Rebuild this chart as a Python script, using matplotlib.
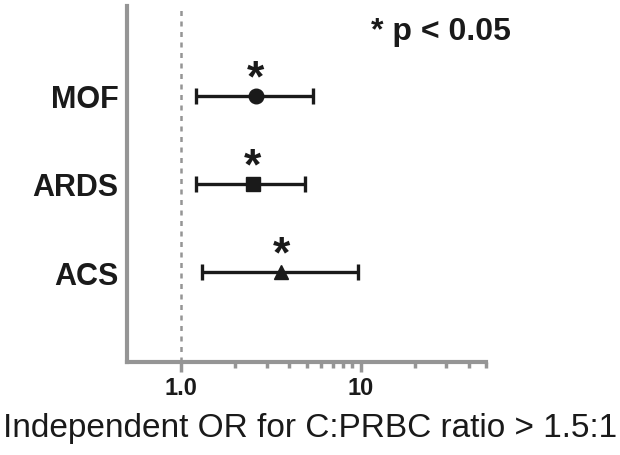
import matplotlib
matplotlib.use("Agg")
import matplotlib.pyplot as plt
from matplotlib.ticker import FixedLocator, NullFormatter

plt.rcParams["font.family"] = ["Liberation Sans", "DejaVu Sans"]

outcomes = ["MOF", "ARDS", "ACS"]
odds_ratio = [2.6, 2.5, 3.6]
ci_low = [1.21, 1.21, 1.3]
ci_high = [5.4, 4.9, 9.7]
markers = ["o", "s", "^"]
ypos = [3, 2, 1]
tick_vals = [1, 10]
tick_text = ["1.0", "10"]

GRAY = "#959595"
INK = "#1a1a1a"

fig = plt.figure(figsize=(6.2, 4.56), dpi=100)
ax = fig.add_axes([0.205, 0.204, 0.579, 0.781])

for y, orv, lo, hi, m in zip(ypos, odds_ratio, ci_low, ci_high, markers):
    ax.errorbar([orv], [y], xerr=[[orv - lo], [hi - orv]], fmt=m, color=INK,
                ms=10.5 if m != "s" else 9.5, elinewidth=2.4, capsize=6, capthick=2.4)
    ax.annotate("*", (orv, y), xytext=(0, 12), textcoords="offset points",
                ha="center", va="center", fontsize=32, fontweight="bold", color=INK)

ax.axvline(1.0, color=GRAY, ls=(0, (2, 2.2)), lw=1.8, zorder=0)

ax.set_xscale("log")
ax.set_xlim(0.5, 50)
ax.set_ylim(-0.02, 4.02)

ax.xaxis.set_major_locator(FixedLocator(tick_vals))
ax.xaxis.set_minor_locator(FixedLocator([2, 3, 4, 5, 6, 7, 8, 9, 20, 30, 40, 50]))
ax.xaxis.set_minor_formatter(NullFormatter())
ax.set_xticklabels(tick_text, fontsize=17, fontweight="bold", color=INK)
ax.tick_params(axis="x", which="major", length=7, width=2.5, color=GRAY, pad=3)
ax.tick_params(axis="x", which="minor", length=4, width=2.5, color=GRAY)

ax.set_yticks(ypos)
ax.set_yticklabels(outcomes, fontsize=22, fontweight="bold", color=INK)
ax.tick_params(axis="y", length=0, pad=6)

for side in ["top", "right"]:
    ax.spines[side].set_visible(False)
for side in ["left", "bottom"]:
    ax.spines[side].set_color(GRAY)
    ax.spines[side].set_linewidth(3)

ax.text(0.68, 0.93, "* p < 0.05", transform=ax.transAxes, ha="left", va="center",
        fontsize=23, fontweight="bold", color=INK)

fig.text(0.5, 0.06, "Independent OR for C:PRBC ratio > 1.5:1", ha="center", va="center",
         fontsize=24, color=INK)

fig.savefig("out.png", dpi=100)
